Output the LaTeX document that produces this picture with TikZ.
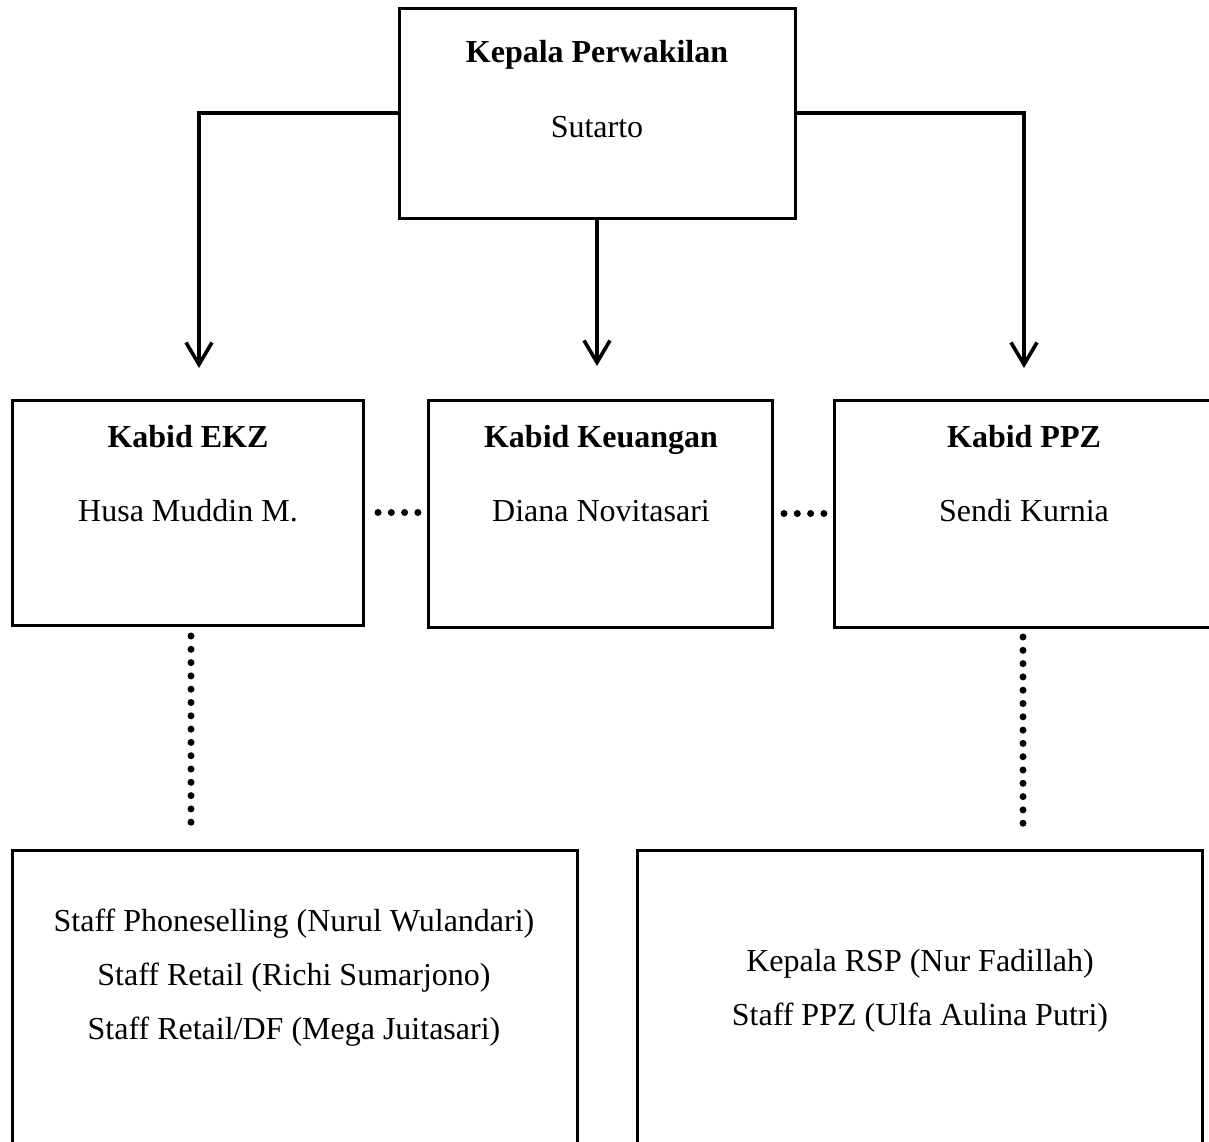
\documentclass[tikz,border=0pt]{standalone}
\usepackage{fontspec}
\setmainfont{Liberation Serif}
\usetikzlibrary{arrows.meta,calc}
\begin{document}
\begin{tikzpicture}[x=1pt,y=-1pt,
  box/.style={draw,line width=3pt,rectangle,inner sep=0pt,outer sep=0pt},
  txt/.style={anchor=base,inner sep=0pt,font=\fontsize{32}{38}\selectfont},
  btxt/.style={txt,font=\fontsize{32}{38}\selectfont\bfseries},
  arr/.style={line width=3.8pt,-{Straight Barb[length=22pt,width=26pt,line width=3.6pt]}},
  dotline/.style={line width=7pt,line cap=round,dash pattern=on 0pt off 13.3pt}]
\useasboundingbox (0,0) rectangle (1209,1141);
\clip (0,0) rectangle (1209,1141);
% boxes
\node[box,minimum width=396pt,minimum height=210pt] (top) at (597,113) {};
\node[box,minimum width=351pt,minimum height=225pt] (ekz) at (187.5,512.5) {};
\node[box,minimum width=344pt,minimum height=227pt] (keu) at (600,513.5) {};
\node[box,minimum width=380pt,minimum height=227pt] (ppz) at (1024,513.5) {};
\node[box,minimum width=565pt,minimum height=320pt] (bl) at (294.5,1010) {};
\node[box,minimum width=565pt,minimum height=320pt] (br) at (919.5,1010) {};
% texts
\node[btxt] (t1) at (597,62) {Kepala Perwakilan};
\node[txt] (t2) at (597,137) {Sutarto};
\node[btxt] (e1) at (188,447) {Kabid EKZ};
\node[txt] (e2) at (188,521) {Husa Muddin M.};
\node[btxt] (k1) at (601,447) {Kabid Keuangan};
\node[txt] (k2) at (601,521) {Diana Novitasari};
\node[btxt] (p1) at (1024,447) {Kabid PPZ};
\node[txt] (p2) at (1024,521) {Sendi Kurnia};
\node[txt] (l1) at (294,931) {Staff Phoneselling (Nurul Wulandari)};
\node[txt] (l2) at (294,985) {Staff Retail (Richi Sumarjono)};
\node[txt] (l3) at (294,1039) {Staff Retail/DF (Mega Juitasari)};
\node[txt] (r1) at (920,971) {Kepala RSP (Nur Fadillah)};
\node[txt] (r2) at (920,1025) {Staff PPZ (Ulfa Aulina Putri)};
% arrows
\coordinate (tipL) at (199,368);
\coordinate (tipM) at (597,366);
\coordinate (tipR) at (1024,368);
\draw[arr] (top.west) -| (tipL);
\draw[arr] (top.south) -- (tipM);
\draw[arr] (top.east) -| (tipR);
% dotted
\draw[dotline,shorten <=15pt,shorten >=7pt] (ekz.east) -- (ekz.east -| keu.west);
\draw[dotline,shorten <=12pt,shorten >=7pt] (keu.east) -- (keu.east -| ppz.west);
\draw[dotline,shorten <=11pt,shorten >=16pt] ($(ekz.south)+(3.5,0)$) -- ($(ekz.south |- bl.north)+(3.5,0)$);
\draw[dotline,shorten <=10pt,shorten >=16pt] ($(ppz.south)+(-1,0)$) -- ($(ppz.south |- br.north)+(-1,0)$);
\end{tikzpicture}
\end{document}
